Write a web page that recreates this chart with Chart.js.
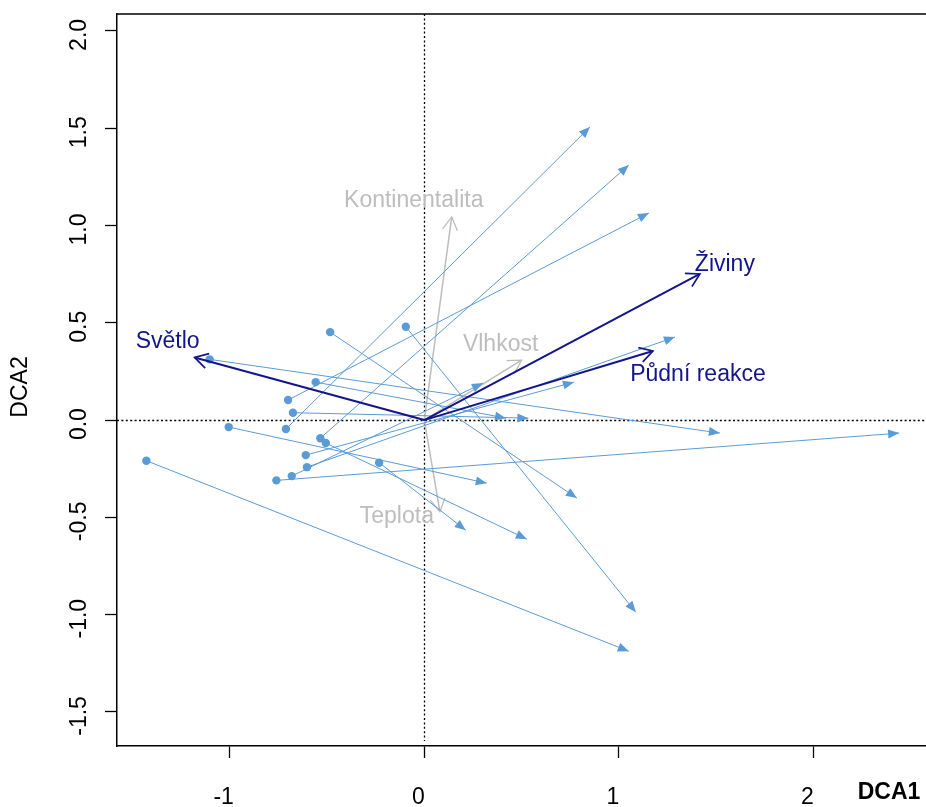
<!DOCTYPE html>
<html>
<head>
<meta charset="utf-8">
<script src="https://cdn.jsdelivr.net/npm/chart.js@4.4.1/dist/chart.umd.min.js"></script>
<style>
  html, body { margin: 0; padding: 0; background: #fff; overflow: hidden; }
  #wrap { width: 926px; height: 807px; position: relative; }
</style>
</head>
<body>
<div id="wrap"><canvas id="c"></canvas></div>
<script>
// Ordinace DCA: posun ploch (tečka -> šipka) a vektory proměnných prostředí.

const siteX = [-0.711, -0.534, -0.700, -0.603, -0.609, -0.681, -0.675, -0.558, -1.103, -0.760, -1.005, -0.484, -0.232, -0.506, -0.095, -1.428];
const siteY = [-0.046, -0.093, 0.103, -0.242, -0.180, -0.288, 0.038, 0.195, 0.312, -0.310, -0.036, 0.452, -0.219, -0.118, 0.480, -0.209];
const endX  = [0.851, 1.051, 1.154, 1.288, 0.769, 0.301, 0.535, 0.420, 1.519, 2.440, 0.321, 0.784, 0.213, 0.527, 1.087, 1.051];
const endY  = [1.506, 1.311, 1.064, 0.427, 0.195, 0.190, 0.010, 0.010, -0.067, -0.067, -0.324, -0.401, -0.566, -0.612, -0.987, -1.188];

const envNames = ['Světlo', 'Živiny', 'Půdní reakce', 'Kontinentalita', 'Vlhkost', 'Teplota'];
const envX = [-1.180, 1.416, 1.175, 0.141, 0.500, 0.080];
const envY = [0.322, 0.751, 0.355, 1.044, 0.308, -0.471];
const envSig = [true, true, true, false, false, false];

const xTicks = [-1, 0, 1, 2];
const yTicks = [-1.5, -1.0, -0.5, 0.0, 0.5, 1.0, 1.5, 2.0];

// styl
const FONT = "'Liberation Sans', Arial, sans-serif";
const AZUL = '#5b9bd5';
const NAVY = '#14148c';
const CINZA = '#bdbdbd';
// posun popisků od hrotu vektoru (px)
const labelOff = [[-27, -16], [25, -9], [45, 24], [-38, -16], [-21, -15], [-43, 5]];

const datasets = [];
envX.forEach((x, i) => {
  datasets.push({
    label: envNames[i],
    data: [{ x: 0, y: 0 }, { x, y: envY[i] }],
    showLine: true, pointRadius: 0,
    borderColor: envSig[i] ? NAVY : CINZA,
    borderWidth: envSig[i] ? 2 : 1.5,
    order: envSig[i] ? 0 : 3,
    head: 'open',
  });
});
datasets.push({
  label: 'plochy',
  data: siteX.map((x, i) => ({ x, y: siteY[i] })),
  showLine: false, pointRadius: 4.2, pointBorderWidth: 0,
  pointBackgroundColor: AZUL, order: 1,
});
siteX.forEach((x, i) => {
  datasets.push({
    data: [{ x, y: siteY[i] }, { x: endX[i], y: endY[i] }],
    showLine: true, pointRadius: 0,
    borderColor: AZUL, borderWidth: 1,
    order: 2, head: 'filled',
  });
});

const kresba = {
  id: 'kresba',
  beforeDatasetsDraw(chart) {
    const { ctx, chartArea: a, scales: { x, y } } = chart;
    ctx.save();
    ctx.strokeStyle = '#000';
    ctx.lineWidth = 1.3;
    ctx.setLineDash([2, 2.4]);
    ctx.beginPath();
    const px = Math.round(x.getPixelForValue(0)) + 0.5;
    const py = Math.round(y.getPixelForValue(0)) + 0.5;
    ctx.moveTo(px, a.top); ctx.lineTo(px, a.bottom - 5);
    ctx.moveTo(a.left, py); ctx.lineTo(a.right, py);
    ctx.stroke();
    ctx.restore();
  },
  afterDatasetDraw(chart, args) {
    const ds = chart.data.datasets[args.index];
    if (!ds.head) return;
    const [p, q] = args.meta.data;
    const ang = Math.atan2(q.y - p.y, q.x - p.x);
    const c = Math.cos(ang), s = Math.sin(ang);
    const ctx = chart.ctx;
    ctx.save();
    ctx.fillStyle = ds.borderColor;
    ctx.strokeStyle = ds.borderColor;
    if (ds.head === 'filled') {
      const L = 11, W = 4.5;
      ctx.beginPath();
      ctx.moveTo(q.x, q.y);
      ctx.lineTo(q.x - L * c + W * s, q.y - L * s - W * c);
      ctx.lineTo(q.x - L * c - W * s, q.y - L * s + W * c);
      ctx.closePath();
      ctx.fill();
    } else {
      const L = 15, t = Math.PI / 6;
      ctx.lineWidth = ds.borderWidth * 0.85;
      ctx.beginPath();
      ctx.moveTo(q.x - L * Math.cos(ang - t), q.y - L * Math.sin(ang - t));
      ctx.lineTo(q.x, q.y);
      ctx.lineTo(q.x - L * Math.cos(ang + t), q.y - L * Math.sin(ang + t));
      ctx.stroke();
    }
    ctx.restore();
  },
  afterDraw(chart) {
    const { ctx, chartArea: a, scales: { x, y } } = chart;
    ctx.save();
    // horní hrana rámu
    ctx.strokeStyle = '#000';
    ctx.lineWidth = 1.5;
    ctx.beginPath();
    ctx.moveTo(a.left, a.top); ctx.lineTo(a.right, a.top);
    ctx.stroke();

    // popisky osy y (otočené)
    ctx.fillStyle = '#000';
    ctx.font = `23px ${FONT}`;
    ctx.textAlign = 'center';
    ctx.textBaseline = 'middle';
    yTicks.forEach((v) => {
      ctx.save();
      ctx.translate(80, y.getPixelForValue(v) + 4);
      ctx.rotate(-Math.PI / 2);
      ctx.fillText(v.toFixed(1), 0, 0);
      ctx.restore();
    });
    ctx.save();
    ctx.translate(21, 387);
    ctx.rotate(-Math.PI / 2);
    ctx.fillText('DCA2', 0, 0);
    ctx.restore();
    ctx.font = `bold 23px ${FONT}`;
    ctx.fillText('DCA1', 889, 793);

    // popisky vektorů
    ctx.font = `23px ${FONT}`;
    envNames.forEach((n, i) => {
      ctx.fillStyle = envSig[i] ? NAVY : CINZA;
      ctx.fillText(n, x.getPixelForValue(envX[i]) + labelOff[i][0], y.getPixelForValue(envY[i]) + labelOff[i][1]);
    });
    ctx.restore();
  },
};

new Chart(document.getElementById('c'), {
  type: 'scatter',
  data: { datasets },
  options: {
    responsive: true, maintainAspectRatio: false, animation: false,
    layout: { autoPadding: false, padding: { top: 14, right: 0, left: 0, bottom: 0 } },
    plugins: { legend: { display: false }, tooltip: { enabled: false } },
    scales: {
      x: {
        type: 'linear', min: -1.579, max: 2.578,
        border: { display: true, color: '#000', width: 1.5 },
        grid: { drawOnChartArea: false, drawTicks: true, tickLength: 12, color: '#000', tickWidth: 1.3 },
        afterBuildTicks: (s) => { s.ticks = xTicks.map((v) => ({ value: v })); },
        ticks: { color: '#000', font: { family: FONT, size: 23 }, padding: 26, labelOffset: -6, maxRotation: 0, autoSkip: false },
        afterFit: (s) => { s.height = 61; s.paddingLeft = 0; s.paddingRight = 0; },
      },
      y: {
        type: 'linear', min: -1.675, max: 2.087,
        border: { display: true, color: '#000', width: 1.5 },
        grid: { drawOnChartArea: false, drawTicks: true, tickLength: 12, color: '#000', tickWidth: 1.3 },
        afterBuildTicks: (s) => { s.ticks = yTicks.map((v) => ({ value: v })); },
        ticks: { display: false },
        afterFit: (s) => { s.width = 117; s.paddingTop = 0; s.paddingBottom = 0; },
      },
    },
  },
  plugins: [kresba],
});
</script>
</body>
</html>
